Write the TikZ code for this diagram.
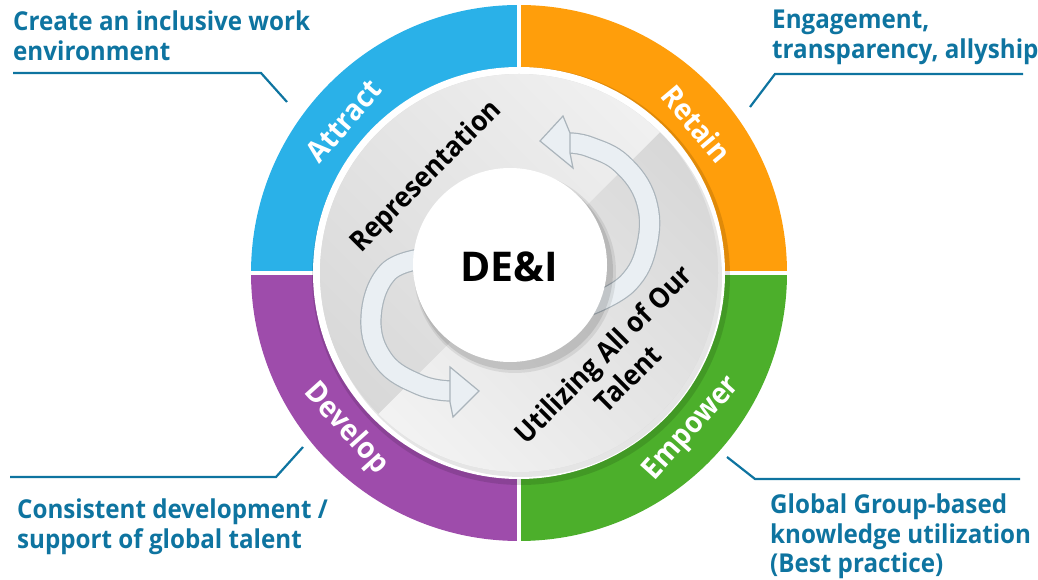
\documentclass[tikz,border=0pt]{standalone}
\usepackage{fontspec}
\setmainfont{Open Sans}
\newfontfamily\narrowsans{Open Sans}[FakeStretch=0.93]
\usetikzlibrary{shadows,calc}
\definecolor{cblue}{RGB}{42,177,232}
\definecolor{corange}{RGB}{255,158,11}
\definecolor{cgreen}{RGB}{76,175,43}
\definecolor{cpurple}{RGB}{158,76,171}
\definecolor{ctext}{RGB}{14,116,160}
\definecolor{ribfill}{RGB}{234,239,243}
\definecolor{ribedge}{RGB}{170,180,187}
\tikzset{
  callout/.style={anchor=north west, inner sep=0pt, align=left, text=ctext,
    font=\narrowsans\bfseries\fontsize{26}{29.5}\selectfont},
  leader/.style={draw=ctext, line width=2.2pt},
  ringlbl/.style={text=white, inner sep=0pt, font=\narrowsans\bfseries\fontsize{29.5}{32}\selectfont},
  innerlbl/.style={text=black, inner sep=0pt, align=center, font=\narrowsans\bfseries\fontsize{28}{34.5}\selectfont},
  ribbon/.style={draw=ribedge, line width=1.2pt, double=ribfill, double distance=19pt, line cap=butt},
  ribhead/.style={fill=ribfill, draw=ribedge, line width=1.2pt, line join=miter},
}
\begin{document}
\begin{tikzpicture}[x=1pt,y=1pt]
\useasboundingbox (0,0) rectangle (1038,580);
\coordinate (C) at (519,307);
% ring quadrants
\fill[cblue] ($(C)+(90:268)$) arc[start angle=90,end angle=180,radius=268] -- ($(C)+(180:205)$) arc[start angle=180,end angle=90,radius=205] -- cycle;
\fill[corange] ($(C)+(0:268)$) arc[start angle=0,end angle=90,radius=268] -- ($(C)+(90:205)$) arc[start angle=90,end angle=0,radius=205] -- cycle;
\fill[cpurple] ($(C)+(180:268)$) arc[start angle=180,end angle=270,radius=268] -- ($(C)+(270:205)$) arc[start angle=270,end angle=180,radius=205] -- cycle;
\fill[cgreen] ($(C)+(270:268)$) arc[start angle=270,end angle=360,radius=268] -- ($(C)+(0:205)$) arc[start angle=360,end angle=270,radius=205] -- cycle;
\draw[white, line width=4.2pt] ($(C)+(0,272)$) -- ($(C)+(0,-272)$);
\draw[white, line width=4.2pt] ($(C)+(-272,0)$) -- ($(C)+(272,0)$);
% inner disc
\fill[black, opacity=0.12] ($(C)+(2,-3)$) circle (209);
\fill[white] (C) circle (206);
\fill[black, opacity=0.10] ($(C)+(3,-4)$) circle (200);
\fill[gray!28] (C) circle (199);
\begin{scope}
  \clip (C) circle (199);
  \shade[top color=gray!33, bottom color=gray!8, shading angle=-45]
    [rotate around={45:(C)}] ($(C)+(-220,0)$) rectangle ($(C)+(220,-220)$);
  \shade[top color=gray!10, bottom color=gray!32, shading angle=-45]
    [rotate around={45:(C)}] ($(C)+(-220,0)$) rectangle ($(C)+(220,220)$);
\end{scope}
% ribbon arrows
\draw[ribbon] plot[smooth, tension=0.7] coordinates {(428,322) (388,308) (371,262) (384,219) (420,195) (451,189)};
\fill[ribhead] (450,199) -- (450,213) -- (479,189) -- (453,163) -- (450,178) -- cycle;
\draw[ribbon] plot[smooth, tension=0.7] coordinates {(590,275) (628,297) (647,335) (646,380) (622,416) (590,433) (569,437)};
\fill[ribhead] (570,447) -- (563,464) -- (540,439) -- (573,412) -- (570,427) -- cycle;
% center circle
\fill[black, opacity=0.08] (515,308) circle (101);
\fill[black, opacity=0.10] (514,309) circle (99);
\node[circle, fill=white, minimum size=194pt, inner sep=0pt] (core) at (510,315) {};
\node[inner sep=0pt, font=\bfseries\fontsize{41}{44}\selectfont] (dei) at (509,313) {DE\&I};
% inner labels
\node[innerlbl, rotate=45] (rep) at (427,403) {Representation};
\node[innerlbl, rotate=45] (util) at (615,214) {Utilizing All of Our\\Talent};
% ring labels
\node[ringlbl, rotate=49] (attract) at ($(C)+(139:232)$) {Attract};
\node[ringlbl, rotate=-50] (retain) at ($(C)+(40:232)$) {Retain};
\node[ringlbl, rotate=-48] (develop) at ($(C)+(222:233)$) {Develop};
\node[ringlbl, rotate=48] (empower) at ($(C)+(-42:233)$) {Empower};
% callouts
\node[callout] (tl) at (13,569) {Create an inclusive work\\environment};
\node[callout] (tr) at (772,570) {Engagement,\\transparency, allyship};
\node[callout] (bl) at (17,81) {Consistent development /\\support of global talent};
\node[callout] (br) at (770,86) {Global Group-based\\knowledge utilization\\(Best practice)};
\coordinate (tla) at (13,507); \coordinate (tlb) at (261,507); \coordinate (tlc) at (287,478);
\coordinate (tra) at (1023,506); \coordinate (trb) at (775,506); \coordinate (trc) at (750,473);
\coordinate (bla) at (10,103); \coordinate (blb) at (276,103); \coordinate (blc) at (303,133);
\coordinate (bra) at (727,123); \coordinate (brb) at (755,101); \coordinate (brc) at (1020,101);
\draw[leader] (tla) -- (tlb) -- (tlc);
\draw[leader] (tra) -- (trb) -- (trc);
\draw[leader] (bla) -- (blb) -- (blc);
\draw[leader] (bra) -- (brb) -- (brc);
\end{tikzpicture}
\end{document}
